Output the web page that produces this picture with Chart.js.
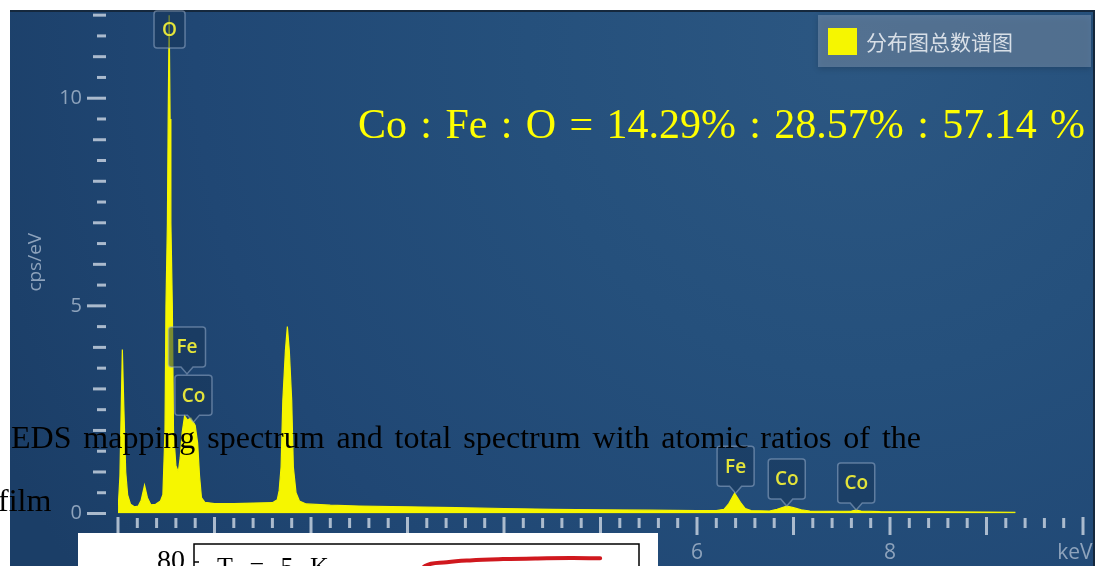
<!DOCTYPE html>
<html lang="zh">
<head>
<meta charset="utf-8">
<title>EDS spectrum</title>
<script src="https://cdn.jsdelivr.net/npm/chart.js@4.4.1/dist/chart.umd.min.js"></script>
<style>
  html, body { margin: 0; padding: 0; background: #fff; }
  #wrap { position: relative; width: 1108px; height: 566px; overflow: hidden; }
  #eds { position: absolute; left: 0; top: 0; }
  .serif { position: absolute; font-family: "Liberation Serif", "Times New Roman", serif; white-space: nowrap; line-height: 1; }
  #caption1 { left: 11px; top: 421px; width: 910px; font-size: 32px; color: #000; text-align: justify; text-align-last: justify; }
  #caption2 { left: -2px; top: 484px; font-size: 32px; color: #000; }
  #ratio { left: 358px; top: 103px; width: 727px; font-size: 42px; color: #ffff00; text-align: justify; text-align-last: justify; }
  #inset { position: absolute; left: 78px; top: 533px; width: 580px; height: 33px; overflow: hidden; background: #fff; }
  #mh { position: absolute; left: 0; top: 0; }
</style>
</head>
<body>
<div id="wrap">
  <canvas id="eds" width="1108" height="566"></canvas>
  <div id="ratio" class="serif">Co : Fe : O = 14.29% : 28.57% : 57.14 %</div>
  <div id="caption1" class="serif">EDS mapping spectrum and total spectrum with atomic ratios of the</div>
  <div id="caption2" class="serif">film</div>
  <div id="inset"><canvas id="mh" width="580" height="378"></canvas></div>
</div>
<script>
// ---- spectrum data ----
const energyKeV = [
  0.00, 0.02, 0.045, 0.06, 0.08, 0.10, 0.13, 0.17, 0.21, 0.24, 0.275, 0.305, 0.34, 0.39, 0.44,
  0.465, 0.487, 0.497, 0.512, 0.52, 0.53, 0.54, 0.548, 0.563, 0.575, 0.60, 0.625,
  0.645, 0.665, 0.69, 0.72, 0.755, 0.80, 0.825, 0.845, 0.865, 0.90,
  1.0, 1.2, 1.4, 1.6, 1.65, 1.67, 1.69, 1.708, 1.735, 1.755, 1.775, 1.80, 1.817, 1.845, 1.88, 1.95,
  2.2, 2.5, 3.0, 3.5, 4.0, 4.5, 5.0, 5.5, 6.0,
  6.2, 6.28, 6.33, 6.39, 6.45, 6.5, 6.56, 6.75, 6.83, 6.93, 7.0, 7.08, 7.17,
  7.4, 7.6, 7.65, 7.7, 7.9, 8.5, 9.0, 9.3
];
const countsCps = [
  0.05, 0.9, 3.95, 2.6, 1.0, 0.45, 0.22, 0.16, 0.18, 0.32, 0.68, 0.38, 0.21, 0.22, 0.30,
  0.45, 2.0, 5.0, 7.0, 9.5, 12.0, 9.5, 7.0, 5.0, 2.0, 1.15, 1.0,
  1.35, 1.95, 2.35, 2.25, 2.30, 2.12, 1.7, 0.9, 0.38, 0.27,
  0.24, 0.24, 0.25, 0.26, 0.33, 0.55, 1.12, 2.72, 3.93, 4.5, 3.93, 2.72, 1.12, 0.5, 0.30, 0.23,
  0.20, 0.18, 0.16, 0.14, 0.12, 0.10, 0.09, 0.08, 0.07,
  0.07, 0.10, 0.24, 0.49, 0.27, 0.12, 0.07, 0.06, 0.10, 0.18, 0.14, 0.09, 0.06,
  0.05, 0.06, 0.08, 0.06, 0.045, 0.04, 0.035, 0.03
];
const seriesName = '分布图总数谱图';

// peak markers: element, line energy (keV), where the pointer touches (cps/eV)
const peakNames = ['O', 'Fe', 'Co', 'Fe', 'Co', 'Co'];
const peakKeV = [0.534, 0.715, 0.782, 6.40, 6.93, 7.65];
const peakTipCps = [null, 3.36, 2.2, 0.49, 0.18, 0.085];

// axis labels ("keV" sits a little left of the 10 keV mark)
const xLabelValues = [0, 2, 4, 6, 8, 10];
const xLabelTexts = ['0', '2', '4', '6', '8', 'keV   '];
const yLabelValues = [0, 5, 10];

// ---- inset (partial M-H plot below) ----
const fieldKOe = [0.5, 2.1, 7.5, 13.2, 21.4, 29.8, 38.0, 45.4];
const magnetization = [71, 77.8, 79.9, 80.9, 81.6, 82.0, 82.2, 82.1];
const insetNote = 'T = 5 K';

const axisGrey = '#8ea3bc';
const markGrey = 'rgba(186,200,215,0.9)';
const sans = '"Open Sans", "Noto Sans", sans-serif';

function near(a, b) { return Math.abs(a - b) < 1e-6; }

// fixed axis size, no extra room reserved for overhanging labels
function fixSize(w, h) {
  return s => {
    if (w !== null) s.width = w;
    if (h !== null) s.height = h;
    s.paddingTop = 0; s.paddingBottom = 0;
    s.paddingLeft = 0; s.paddingRight = 0;
  };
}

// panel background behind the spectrum
const panelBg = {
  id: 'panelBg',
  beforeDraw(chart) {
    const ctx = chart.ctx;
    ctx.save();
    ctx.fillStyle = '#fff';
    ctx.fillRect(0, 0, chart.width, chart.height);
    const g = ctx.createRadialGradient(860, 40, 0, 860, 40, 950);
    g.addColorStop(0, '#2c5782');
    g.addColorStop(0.35, '#25507c');
    g.addColorStop(0.7, '#204774');
    g.addColorStop(1, '#1b3e67');
    ctx.fillStyle = g;
    ctx.fillRect(10, 10, 1085, 556);
    ctx.strokeStyle = '#15283d';
    ctx.lineWidth = 2;
    ctx.beginPath();
    ctx.moveTo(10, 11); ctx.lineTo(1094, 11); ctx.lineTo(1094, 566);
    ctx.stroke();
    ctx.restore();
  }
};

// tick marks in the instrument style (long / short)
const axisMarks = {
  id: 'axisMarks',
  afterDraw(chart) {
    const {ctx, chartArea, scales} = chart;
    ctx.save();
    ctx.strokeStyle = markGrey;
    ctx.lineWidth = 3;
    const xr = chartArea.left - 12;
    scales.y.ticks.forEach(t => {
      const half = Math.round(t.value * 2);
      const len = half % 10 === 0 ? 19 : (half % 2 === 0 ? 13 : 9);
      const y = scales.y.getPixelForValue(t.value);
      ctx.beginPath();
      ctx.moveTo(xr - len, y); ctx.lineTo(xr, y);
      ctx.stroke();
    });
    const yb = chartArea.bottom;
    scales.x.ticks.forEach(t => {
      const step = Math.round(t.value * 5);
      const x = scales.x.getPixelForValue(t.value);
      ctx.beginPath();
      if (step % 5 === 0) { ctx.moveTo(x, yb + 3.5); ctx.lineTo(x, yb + 21.5); }
      else { ctx.moveTo(x, yb + 4.5); ctx.lineTo(x, yb + 14.5); }
      ctx.stroke();
    });
    ctx.restore();
  }
};

function bubblePath(ctx, l, t, w, h, tipX, tipY) {
  const r = 3, b = t + h, rr = l + w;
  ctx.beginPath();
  ctx.moveTo(l + r, t);
  ctx.lineTo(rr - r, t); ctx.quadraticCurveTo(rr, t, rr, t + r);
  ctx.lineTo(rr, b - r); ctx.quadraticCurveTo(rr, b, rr - r, b);
  if (tipY !== null) {
    ctx.lineTo(tipX + 6, b); ctx.lineTo(tipX, tipY); ctx.lineTo(tipX - 6, b);
  }
  ctx.lineTo(l + r, b); ctx.quadraticCurveTo(l, b, l, b - r);
  ctx.lineTo(l, t + r); ctx.quadraticCurveTo(l, t, l + r, t);
  ctx.closePath();
}

// element labels and the legend box
const peakTags = {
  id: 'peakTags',
  afterDatasetsDraw(chart) {
    const {ctx, chartArea, scales} = chart;
    ctx.save();
    peakNames.forEach((name, i) => {
      const cx = scales.x.getPixelForValue(peakKeV[i]);
      let l, t, w, h, tipY = null;
      if (peakTipCps[i] === null) {
        w = 31; h = 37; l = cx - w / 2; t = chartArea.top;
      } else {
        tipY = scales.y.getPixelForValue(peakTipCps[i]);
        w = 37; h = 40; l = cx - w / 2; t = tipY - 7 - h;
      }
      bubblePath(ctx, l, t, w, h, cx, tipY);
      ctx.fillStyle = 'rgba(22,52,88,0.55)';
      ctx.fill();
      ctx.strokeStyle = 'rgba(150,172,200,0.55)';
      ctx.lineWidth = 1.5;
      ctx.stroke();
      ctx.fillStyle = '#e4e43a';
      ctx.font = '600 19px ' + sans;
      ctx.textAlign = 'center';
      ctx.textBaseline = 'middle';
      ctx.fillText(name, cx, t + h / 2 + 1);
    });

    // legend
    ctx.shadowColor = 'rgba(0,0,0,0.35)';
    ctx.shadowBlur = 6;
    ctx.shadowOffsetY = 2;
    ctx.fillStyle = 'rgba(140,162,188,0.45)';
    ctx.fillRect(818, 15, 273, 52);
    ctx.shadowColor = 'transparent';
    ctx.fillStyle = chart.data.datasets[0].backgroundColor;
    ctx.fillRect(828, 28, 29, 27);
    ctx.fillStyle = '#d8dfe7';
    ctx.font = '21px "Noto Sans CJK SC", sans-serif';
    ctx.textAlign = 'left';
    ctx.textBaseline = 'middle';
    ctx.fillText(chart.data.datasets[0].label, 866, 42);
    ctx.restore();
  }
};

new Chart(document.getElementById('eds'), {
  type: 'line',
  data: {
    datasets: [{
      label: seriesName,
      data: energyKeV.map((e, i) => ({x: e, y: countsCps[i]})),
      borderColor: '#f6f600',
      backgroundColor: '#f6f600',
      borderWidth: 1.2,
      fill: 'origin',
      pointRadius: 0,
      tension: 0
    }]
  },
  options: {
    responsive: false,
    animation: false,
    layout: { padding: { left: 0, right: 25, top: 11, bottom: 0 } },
    plugins: { legend: { display: false }, tooltip: { enabled: false } },
    scales: {
      x: {
        type: 'linear', min: 0, max: 10,
        grid: { display: false, drawTicks: false },
        border: { display: false },
        ticks: {
          stepSize: 0.2, autoSkip: false, maxRotation: 0, padding: 27,
          color: axisGrey, font: { family: sans, size: 21 },
          callback: v => {
            const k = xLabelValues.findIndex(a => near(a, v));
            return k < 0 ? '' : xLabelTexts[k];
          }
        },
        afterFit: fixSize(null, 52.5)
      },
      y: {
        min: 0, max: 12.1,
        grid: { display: false, drawTicks: false },
        border: { display: false },
        ticks: {
          stepSize: 0.5, includeBounds: false, autoSkip: false, padding: 36,
          color: axisGrey, font: { family: sans, size: 20 },
          callback: v => yLabelValues.some(a => near(a, v)) ? String(v) : ''
        },
        title: {
          display: true, text: 'cps/eV', color: axisGrey,
          font: { family: sans, size: 19 }, padding: { top: 24, bottom: 0 }
        },
        afterFit: fixSize(118, null)
      }
    }
  },
  plugins: [panelBg, axisMarks, peakTags]
});

// ---- inset chart, only its top strip shows ----
const insetFrame = {
  id: 'insetFrame',
  afterDraw(chart) {
    const {ctx, chartArea, scales} = chart;
    ctx.save();
    ctx.strokeStyle = '#000';
    ctx.lineWidth = 1.5;
    ctx.strokeRect(chartArea.left, chartArea.top, chartArea.right - chartArea.left, chartArea.bottom - chartArea.top);
    scales.y.ticks.forEach(t => {
      const y = scales.y.getPixelForValue(t.value);
      ctx.beginPath();
      ctx.moveTo(chartArea.left, y); ctx.lineTo(chartArea.left + 5, y);
      ctx.stroke();
    });
    ctx.fillStyle = '#000';
    ctx.font = '26px "Liberation Serif", serif';
    ctx.textBaseline = 'alphabetic';
    ctx.wordSpacing = '10px';
    ctx.fillText(insetNote, chartArea.left + 23, 42);
    ctx.restore();
  }
};

new Chart(document.getElementById('mh'), {
  type: 'line',
  data: {
    datasets: [{
      data: fieldKOe.map((h, i) => ({x: h, y: magnetization[i]})),
      borderColor: '#d0181e',
      borderWidth: 4,
      borderCapStyle: 'round',
      pointRadius: 0,
      tension: 0.4,
      fill: false
    }]
  },
  options: {
    responsive: false,
    animation: false,
    layout: { padding: { left: 0, right: 19, top: 11, bottom: 25 } },
    plugins: { legend: { display: false }, tooltip: { enabled: false } },
    scales: {
      x: { type: 'linear', min: -55, max: 55, display: false },
      y: {
        min: -100, max: 90,
        grid: { display: false, drawTicks: false },
        border: { display: false },
        ticks: {
          stepSize: 20, includeBounds: false, autoSkip: false, padding: 9, color: '#000',
          font: { family: '"Liberation Serif", serif', size: 28 }
        },
        afterFit: fixSize(116, null)
      }
    }
  },
  plugins: [insetFrame]
});
</script>
</body>
</html>
